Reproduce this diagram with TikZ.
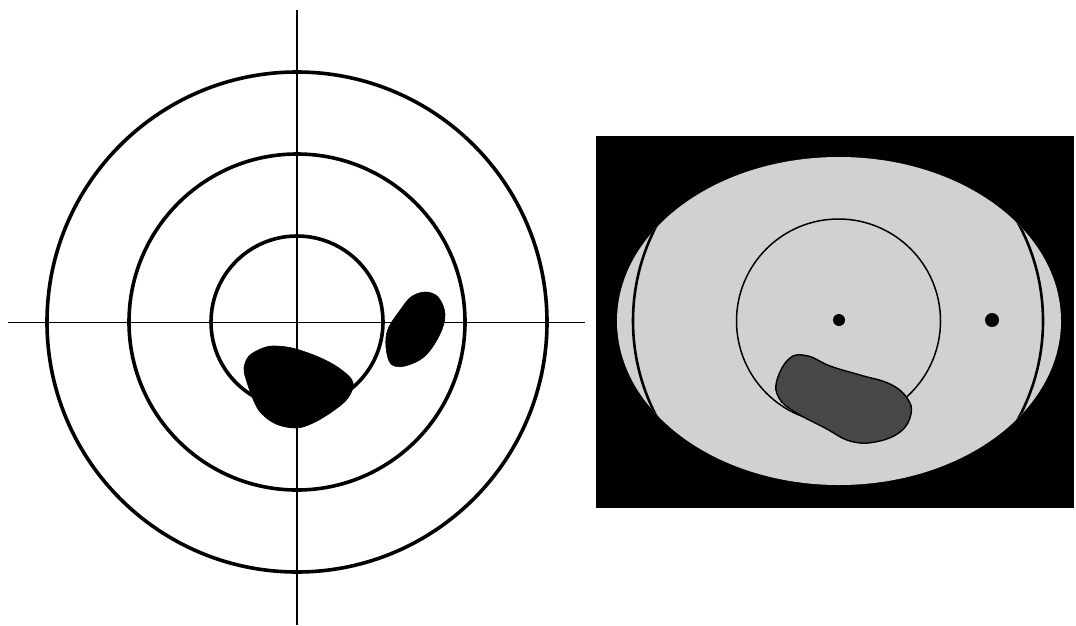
\documentclass[tikz,border=0pt]{standalone}
\begin{document}
\begin{tikzpicture}[x=1pt,y=-1pt,
  ring/.style={line width=3.6pt},
  axis/.style={line width=1.7pt},
  blob/.style={fill=black,draw=black,line width=0.6pt},
  field/.style={fill=black!18},
  spot/.style={fill=black!72,draw=black,line width=1.4pt}]
\useasboundingbox (0,0) rectangle (1076,625);
\fill[white] (0,0) rectangle (1076,625);
% ---------- left panel ----------
\coordinate (c) at (297,322);
\draw[ring] (c) circle[radius=250];
\draw[ring] (c) circle[radius=168];
\draw[ring] (c) circle[radius=86];
\draw[axis] (297,10) -- (297,625);
\draw[axis] (8,322.5) -- (585,322.5);
\fill[blob] plot[smooth cycle,tension=0.6] coordinates {
  (263,348) (276,346) (296,349) (323,359) (343,371) (353,383) (348,398)
  (333,411) (313,423) (296,428) (276,424) (261,413) (253,399) (246,379)
  (244,368) (249,356)};
\fill[blob] plot[smooth cycle,tension=0.6] coordinates {
  (425,292) (438,297) (445,314) (440,334) (425,356) (405,366) (391,364)
  (386,347) (388,329) (401,309) (411,297)};
% ---------- right panel ----------
\fill[black] (596,136) rectangle (1074,508);
\path[field] (839,321) ellipse[x radius=222,y radius=164];
\begin{scope}
  \clip (839,321) ellipse[x radius=222,y radius=164];
  \draw[line width=2.6pt] (838,321) circle[radius=205];
\end{scope}
\draw[line width=1.5pt] (838.5,321) circle[radius=102];
\filldraw[spot] plot[smooth cycle,tension=0.7] coordinates {
  (790,358) (808,356) (830,366) (860,375) (890,384) (907,398) (911,414)
  (900,432) (875,442) (850,441) (825,428) (795,412) (779,398) (777,380)};
\fill[black] (839,320) circle[radius=6];
\fill[black] (992,320) circle[radius=7];
\end{tikzpicture}
\end{document}
